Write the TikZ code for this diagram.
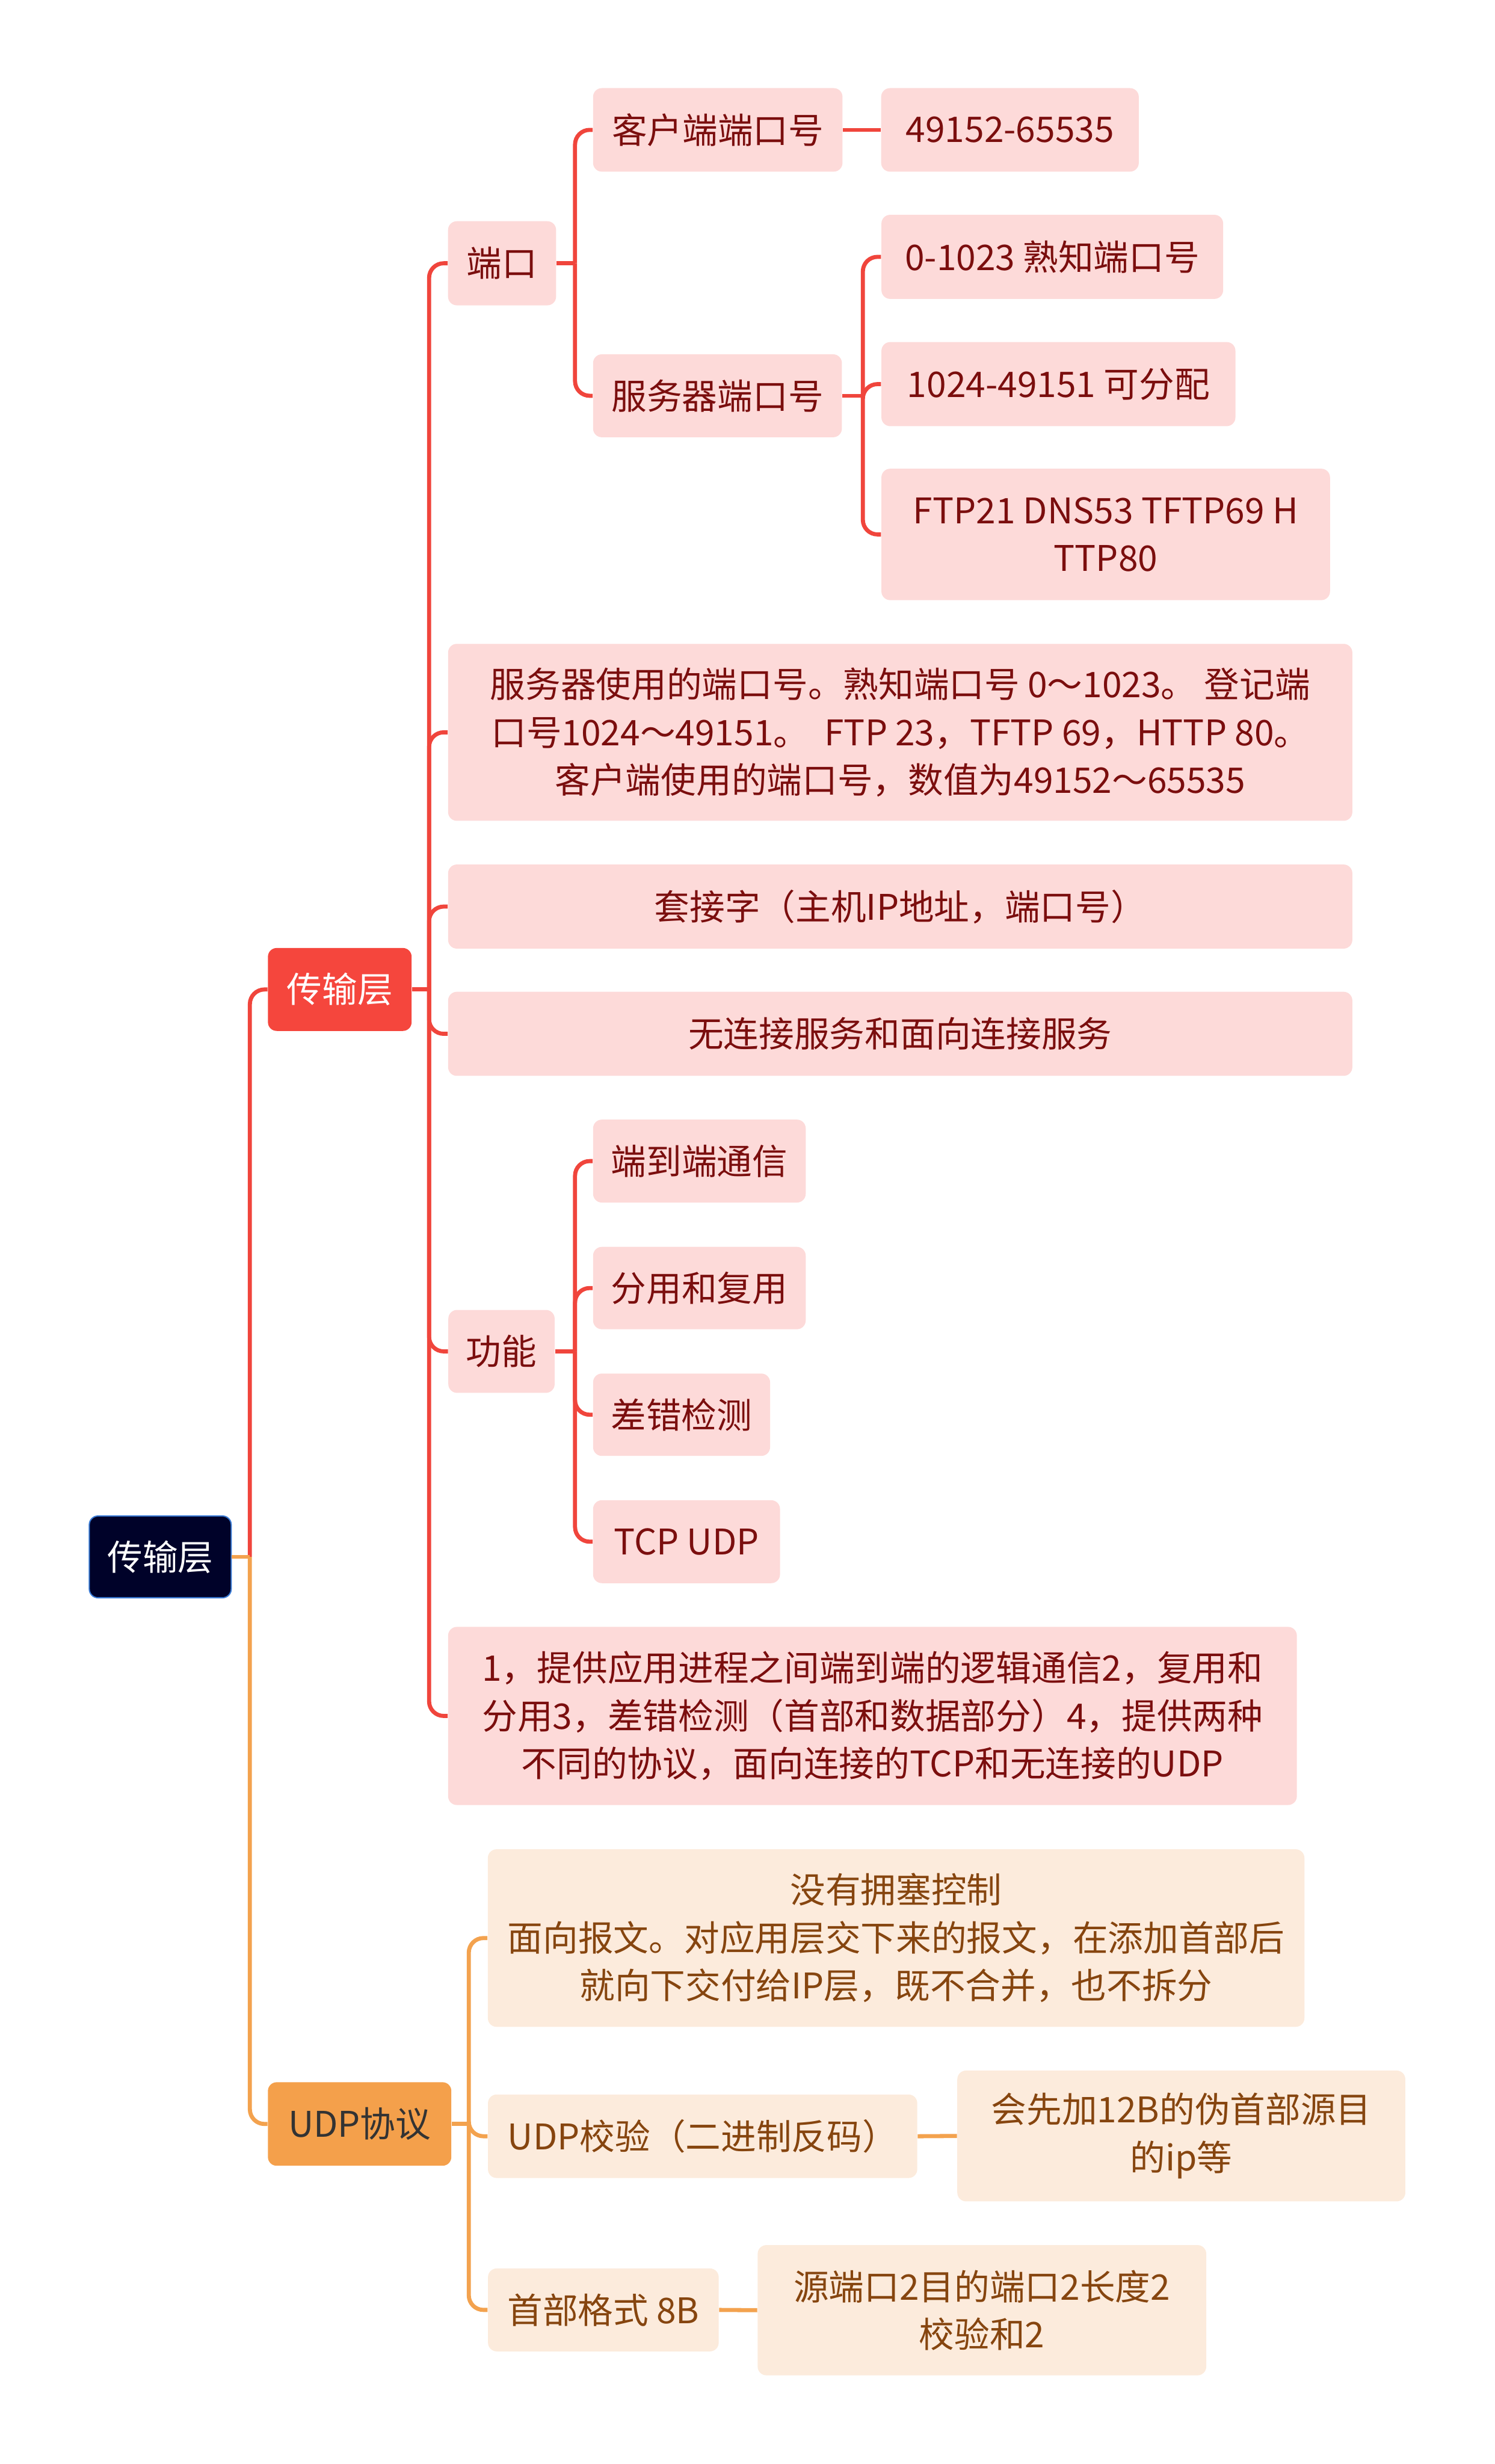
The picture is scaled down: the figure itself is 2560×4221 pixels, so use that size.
\documentclass[tikz,border=0pt]{standalone}
\usepackage{fontspec}
\setmainfont{Noto Sans CJK SC}
\usepackage{tikz}

\definecolor{rootfill}{HTML}{000229}
\definecolor{rootedge}{HTML}{3A7BD5}
\definecolor{redmain}{HTML}{F5463D}
\definecolor{redwire}{HTML}{F0453C}
\definecolor{redsoft}{HTML}{FDDAD9}
\definecolor{redtext}{HTML}{7B0E0E}
\definecolor{orgmain}{HTML}{F4A04B}
\definecolor{orgwire}{HTML}{F3A24E}
\definecolor{orgsoft}{HTML}{FCEBDC}
\definecolor{orgtext}{HTML}{86450F}

\tikzset{
  mapbox/.style={rounded corners=0.15cm, inner sep=0pt, align=center,
    font=\fontsize{17.2}{23.3}\selectfont},
  rootbox/.style={mapbox, fill=rootfill, draw=rootedge, line width=0.6pt, text=white},
  redbox/.style={mapbox, fill=redmain, text=white},
  orgbox/.style={mapbox, fill=orgmain, text=black!80},
  pinkbox/.style={mapbox, fill=redsoft, text=redtext},
  peachbox/.style={mapbox, fill=orgsoft, text=orgtext},
  redlink/.style={draw=redwire, line width=0.07cm, rounded corners=0.25cm},
  orglink/.style={draw=orgwire, line width=0.07cm, rounded corners=0.25cm}
}

\begin{document}
\begin{tikzpicture}[x=0.01cm, y=-0.01cm]
\useasboundingbox (0,0) rectangle (2560,4221);

% main topics
\node[rootbox, minimum width=2.43cm, minimum height=1.40cm] (root) at (274.5,2667) {传输层};
\node[redbox, minimum width=2.46cm, minimum height=1.42cm] (trans) at (582,1695) {传输层};
\node[orgbox, minimum width=3.14cm, minimum height=1.43cm] (udp) at (616,3638.5) {UDP协议};

% transport layer branch
\node[pinkbox, minimum width=1.85cm, minimum height=1.44cm] (port) at (860,451) {端口};
\node[pinkbox, minimum width=15.48cm, minimum height=3.03cm] (usage) at (1542,1254.5)
  {服务器使用的端口号。熟知端口号 0～1023。 登记端\\口号1024～49151。 \ FTP 23，TFTP 69，HTTP 80。\\客户端使用的端口号，数值为49152～65535};
\node[pinkbox, minimum width=15.48cm, minimum height=1.44cm] (socket) at (1542,1553) {套接字（主机IP地址，端口号）};
\node[pinkbox, minimum width=15.48cm, minimum height=1.44cm] (service) at (1542,1771) {无连接服务和面向连接服务};
\node[pinkbox, minimum width=1.82cm, minimum height=1.42cm] (func) at (859,2315) {功能};
\node[pinkbox, minimum width=14.53cm, minimum height=3.05cm] (summary) at (1494.5,2939.5)
  {1，提供应用进程之间端到端的逻辑通信2，复用和\\分用3，差错检测（首部和数据部分）4，提供两种\\不同的协议，面向连接的TCP和无连接的UDP};

% ports
\node[pinkbox, minimum width=4.27cm, minimum height=1.43cm] (cport) at (1229.5,222.5) {客户端端口号};
\node[pinkbox, minimum width=4.26cm, minimum height=1.42cm] (sport) at (1229,678) {服务器端口号};
\node[pinkbox, minimum width=4.41cm, minimum height=1.43cm] (cnum) at (1730,222.5) {49152-65535};
\node[pinkbox, minimum width=5.85cm, minimum height=1.44cm] (wellknown) at (1802.5,440) {0-1023 熟知端口号};
\node[pinkbox, minimum width=6.06cm, minimum height=1.44cm] (registered) at (1813,658) {1024-49151 可分配};
\node[pinkbox, minimum width=7.68cm, minimum height=2.25cm] (common) at (1894,915.5) {FTP21 DNS53 TFTP69 H\\TTP80};

% functions
\node[pinkbox, minimum width=3.64cm, minimum height=1.42cm] (fone) at (1198,1989) {端到端通信};
\node[pinkbox, minimum width=3.64cm, minimum height=1.41cm] (ftwo) at (1198,2206.5) {分用和复用};
\node[pinkbox, minimum width=3.03cm, minimum height=1.41cm] (fthree) at (1167.5,2423.5) {差错检测};
\node[pinkbox, minimum width=3.20cm, minimum height=1.42cm] (ffour) at (1176,2641) {TCP UDP};

% udp branch
\node[peachbox, minimum width=13.98cm, minimum height=3.04cm] (udpfeat) at (1535,3320)
  {没有拥塞控制\\面向报文。对应用层交下来的报文，在添加首部后\\就向下交付给IP层，既不合并，也不拆分};
\node[peachbox, minimum width=7.35cm, minimum height=1.43cm] (check) at (1203.5,3659.5) {UDP校验（二进制反码）};
\node[peachbox, minimum width=7.67cm, minimum height=2.24cm] (pseudo) at (2023.5,3659) {会先加12B的伪首部源目\\的ip等};
\node[peachbox, minimum width=3.95cm, minimum height=1.42cm] (header) at (1033.5,3957) {首部格式 8B};
\node[peachbox, minimum width=7.68cm, minimum height=2.23cm] (fields) at (1682,3957.5) {源端口2目的端口2长度2\\校验和2};

% trunks
\coordinate (t0) at (428,2667);
\coordinate (t1) at (735,1695);
\coordinate (t2) at (985,451);
\coordinate (t3) at (1478,678);
\coordinate (t4) at (985,2315);
\coordinate (t5) at (803,3638.5);

% connectors
\draw[redlink] (t0) |- (trans.west);
\draw[orglink] (t0) |- (udp.west);
\draw[orglink] (root.east) -- (t0);

\draw[redlink] (trans.east) -- (t1);
\foreach \c in {port,usage,socket,service,func,summary}
  \draw[redlink] (t1) |- (\c.west);

\draw[redlink] (port.east) -- (t2);
\draw[redlink] (t2) |- (cport.west);
\draw[redlink] (t2) |- (sport.west);
\draw[redlink] (cport.east) -- (cnum.west);

\draw[redlink] (sport.east) -- (t3);
\foreach \c in {wellknown,registered,common}
  \draw[redlink] (t3) |- (\c.west);

\draw[redlink] (func.east) -- (t4);
\foreach \c in {fone,ftwo,fthree,ffour}
  \draw[redlink] (t4) |- (\c.west);

\draw[orglink] (udp.east) -- (t5);
\foreach \c in {udpfeat,check,header}
  \draw[orglink] (t5) |- (\c.west);
\draw[orglink] (check.east) -- (pseudo.west);
\draw[orglink] (header.east) -- (fields.west);

\end{tikzpicture}
\end{document}
